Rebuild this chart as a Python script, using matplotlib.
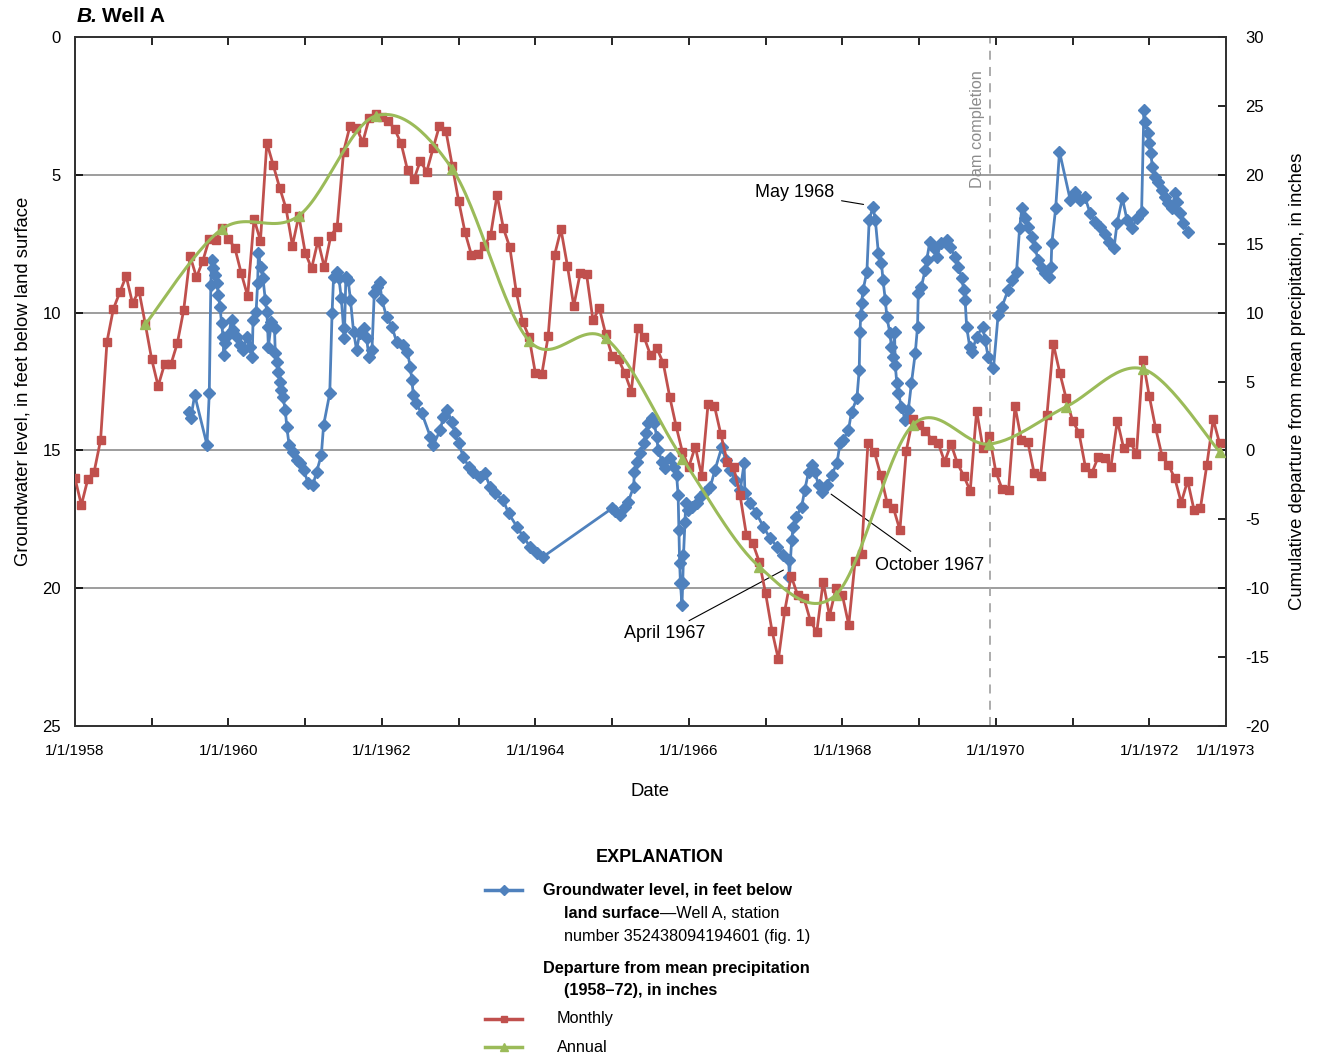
import matplotlib
matplotlib.use("Agg")
import matplotlib.pyplot as plt
from matplotlib.lines import Line2D
import numpy as np

plt.rcParams['font.family'] = ['Liberation Sans', 'DejaVu Sans']
plt.rcParams['axes.unicode_minus'] = False

# groundwater level, Well A (decimal year, feet below land surface)
gw_year = [1959.49, 1959.51, 1959.56, 1959.72, 1959.75, 1959.77, 1959.78, 1959.80, 1959.82, 1959.85,
           1959.87, 1959.89, 1959.91, 1959.93, 1959.94, 1959.95, 1960.00, 1960.04, 1960.06, 1960.11,
           1960.15, 1960.19, 1960.24, 1960.28, 1960.31, 1960.32, 1960.36, 1960.38, 1960.39, 1960.42,
           1960.45, 1960.48, 1960.50, 1960.51, 1960.52, 1960.56, 1960.60, 1960.61, 1960.63, 1960.65,
           1960.67, 1960.69, 1960.71, 1960.74, 1960.76, 1960.79, 1960.84, 1960.89, 1960.93, 1960.98,
           1961.04, 1961.10, 1961.15, 1961.21, 1961.24, 1961.32, 1961.35, 1961.37, 1961.41, 1961.44,
           1961.47, 1961.50, 1961.51, 1961.53, 1961.56, 1961.59, 1961.63, 1961.67, 1961.71, 1961.76,
           1961.80, 1961.83, 1961.87, 1961.90, 1961.93, 1961.97, 1962.00, 1962.06, 1962.13, 1962.19,
           1962.28, 1962.33, 1962.37, 1962.39, 1962.41, 1962.44, 1962.52, 1962.63, 1962.67, 1962.76,
           1962.80, 1962.85, 1962.91, 1962.95, 1963.00, 1963.06, 1963.13, 1963.19, 1963.28, 1963.34,
           1963.41, 1963.47, 1963.58, 1963.65, 1963.76, 1963.84, 1963.93, 1964.02, 1964.10,
           1965.00, 1965.04, 1965.10, 1965.17, 1965.21, 1965.28, 1965.29, 1965.32, 1965.36, 1965.41,
           1965.44, 1965.47, 1965.52, 1965.55, 1965.58, 1965.60, 1965.65, 1965.69, 1965.76, 1965.80,
           1965.84, 1965.86, 1965.87, 1965.88, 1965.89, 1965.91, 1965.92, 1965.93, 1965.95, 1965.96,
           1965.99, 1966.04, 1966.10, 1966.15, 1966.21, 1966.28, 1966.34, 1966.43, 1966.48, 1966.54,
           1966.60, 1966.67, 1966.72, 1966.73, 1966.80, 1966.88, 1966.97, 1967.06, 1967.15, 1967.23,
           1967.30, 1967.31, 1967.34, 1967.36, 1967.40, 1967.47, 1967.51, 1967.56, 1967.60, 1967.64,
           1967.69, 1967.73, 1967.80, 1967.86, 1967.93, 1967.97, 1968.01, 1968.08, 1968.12, 1968.19,
           1968.22, 1968.23, 1968.24, 1968.25, 1968.27, 1968.32, 1968.35, 1968.40, 1968.43, 1968.47,
           1968.51, 1968.53, 1968.56, 1968.58, 1968.62, 1968.64, 1968.66, 1968.68, 1968.69, 1968.71,
           1968.73, 1968.77, 1968.82, 1968.86, 1968.90, 1968.95, 1968.98, 1968.99, 1969.03, 1969.08,
           1969.10, 1969.14, 1969.19, 1969.23, 1969.29, 1969.36, 1969.40, 1969.47, 1969.51, 1969.56,
           1969.58, 1969.60, 1969.62, 1969.66, 1969.69, 1969.75, 1969.83, 1969.86, 1969.90, 1969.97,
           1970.03, 1970.08, 1970.16, 1970.21, 1970.27, 1970.31, 1970.34, 1970.38, 1970.42, 1970.47,
           1970.51, 1970.55, 1970.60, 1970.64, 1970.69, 1970.72, 1970.73, 1970.78, 1970.83, 1970.97,
           1971.03, 1971.10, 1971.16, 1971.23, 1971.29, 1971.36, 1971.42, 1971.48, 1971.54, 1971.58,
           1971.65, 1971.71, 1971.77, 1971.84, 1971.90, 1971.93, 1971.94, 1971.99, 1972.00, 1972.02,
           1972.04, 1972.07, 1972.12, 1972.16, 1972.20, 1972.25, 1972.29, 1972.34, 1972.36, 1972.40,
           1972.44, 1972.50]
gw_depth = [13.60, 13.81, 12.99, 14.80, 12.91, 9.00, 8.09, 8.39, 8.64, 8.94,
            9.36, 9.79, 10.39, 10.87, 11.54, 11.12, 10.81, 10.27, 10.63, 10.87,
            11.18, 11.36, 10.87, 11.24, 11.60, 10.27, 9.97, 8.94, 7.85, 8.33,
            8.76, 9.54, 9.97, 10.51, 11.24, 10.33, 10.57, 11.48, 11.78, 12.14,
            12.51, 12.81, 13.05, 13.53, 14.14, 14.80, 15.05, 15.35, 15.47, 15.71,
            16.20, 16.26, 15.77, 15.17, 14.08, 12.93, 10.03, 8.70, 8.52, 8.76,
            9.48, 10.57, 10.93, 8.70, 8.82, 9.54, 10.69, 11.36, 10.75, 10.57,
            10.93, 11.60, 11.36, 9.30, 9.06, 8.88, 9.54, 10.15, 10.51, 11.05,
            11.18, 11.42, 11.96, 12.45, 13.00, 13.29, 13.65, 14.50, 14.80, 14.26,
            13.78, 13.53, 13.96, 14.38, 14.74, 15.23, 15.59, 15.77, 15.95, 15.83,
            16.32, 16.56, 16.80, 17.28, 17.77, 18.13, 18.49, 18.73, 18.86,
            17.10, 17.20, 17.34, 17.04, 16.86, 16.32, 15.77, 15.41, 15.11, 14.74,
            14.38, 14.02, 13.84, 14.02, 14.50, 14.99, 15.41, 15.65, 15.29, 15.59,
            15.89, 16.62, 17.89, 19.10, 19.80, 20.61, 19.82, 18.80, 17.59, 16.92,
            17.17, 17.04, 16.92, 16.68, 16.50, 16.32, 15.71, 14.87, 15.35, 15.70,
            16.07, 16.44, 15.47, 16.56, 16.92, 17.28, 17.77, 18.19, 18.49, 18.80,
            18.98, 19.58, 18.25, 17.77, 17.40, 17.04, 16.44, 15.77, 15.53, 15.77,
            16.26, 16.50, 16.26, 15.89, 15.47, 14.74, 14.62, 14.26, 13.60, 13.11,
            12.08, 10.69, 10.09, 9.66, 9.18, 8.52, 6.64, 6.16, 6.64, 7.85,
            8.21, 8.82, 9.54, 10.15, 10.75, 11.24, 11.60, 10.70, 11.90, 12.57,
            12.93, 13.41, 13.90, 13.54, 12.57, 11.48, 10.51, 9.30, 9.06, 8.45,
            8.09, 7.43, 7.67, 7.97, 7.49, 7.37, 7.61, 7.97, 8.33, 8.76,
            9.18, 9.54, 10.51, 11.24, 11.42, 10.87, 10.51, 10.99, 11.60, 12.02,
            10.09, 9.79, 9.18, 8.82, 8.52, 6.94, 6.22, 6.58, 6.88, 7.25,
            7.61, 8.09, 8.39, 8.58, 8.70, 8.33, 7.49, 6.22, 4.16, 5.91,
            5.61, 5.91, 5.79, 6.40, 6.70, 6.88, 7.13, 7.43, 7.67, 6.76,
            5.85, 6.64, 6.94, 6.58, 6.34, 2.65, 3.07, 3.50, 3.86, 4.22,
            4.71, 5.07, 5.25, 5.55, 5.79, 6.03, 6.22, 5.67, 5.97, 6.40,
            6.76, 7.06]

# cumulative departure from mean precipitation, monthly, Jan 1958 - Dec 1972 (inches)
monthly_dep = [-2.03, -3.96, -2.10, -1.54, 0.75, 7.89, 10.26, 11.47, 12.65, 10.67, 11.60, 9.15,
               6.60, 4.67, 6.25, 6.25, 7.77, 10.19, 14.10, 12.56, 13.77, 15.34, 15.27, 16.16,
               15.34, 14.69, 12.85, 11.20, 16.79, 15.22, 22.33, 20.71, 19.07, 17.57, 14.86, 17.03,
               14.35, 13.21, 15.22, 13.28, 15.56, 16.24, 21.68, 23.54, 23.42, 22.36, 24.10, 24.41,
               24.22, 23.93, 23.30, 22.28, 20.35, 19.67, 21.00, 20.23, 21.92, 23.57, 23.20, 20.66,
               18.10, 15.82, 14.18, 14.23, 14.83, 15.63, 18.53, 16.11, 14.74, 11.52, 9.34, 8.25,
               5.59, 5.52, 8.30, 14.18, 16.04, 13.41, 10.48, 12.85, 12.78, 9.46, 10.31, 8.42,
               6.85, 6.60, 5.59, 4.26, 8.86, 8.21, 6.92, 7.41, 6.32, 3.90, 1.77, -0.14,
               -1.18, 0.27, -1.83, 3.37, 3.22, 1.17, -0.82, -1.23, -3.24, -6.14, -6.74, -8.07,
               -10.37, -13.08, -15.16, -11.63, -9.11, -10.49, -10.73, -12.36, -13.20, -9.53, -12.00, -10.01,
               -10.49, -12.67, -8.00, -7.52, 0.51, -0.09, -1.79, -3.79, -4.20, -5.78, -0.02, 2.25,
               1.84, 1.43, 0.76, 0.51, -0.82, 0.47, -0.94, -1.86, -2.95, 2.88, 0.15, 1.05,
               -1.54, -2.82, -2.87, 3.22, 0.76, 0.63, -1.66, -1.86, 2.57, 7.72, 5.64, 3.78,
               2.16, 1.29, -1.18, -1.66, -0.50, -0.57, -1.18, 2.16, 0.15, 0.63, -0.26, 6.56,
               3.95, 1.60, -0.41, -1.06, -2.03, -3.79, -2.20, -4.32, -4.20, -1.06, 2.25, 0.51]

# annual cumulative departure, plotted at December of each year
annual_years = list(range(1958, 1973))
annual_dep = [9.15, 16.07, 17.03, 24.27, 20.42, 7.96, 8.13, -0.6, -8.44, -10.47,
              1.84, 0.46, 3.17, 5.91, -0.09]

tick_years = [1958, 1960, 1962, 1964, 1966, 1968, 1970, 1972, 1973]
dam_year = 1969.92

BLUE = '#4F81BD'
RED = '#C0504D'
GREEN = '#9BBB59'


def smooth_curve(x, y, n=30):
    # bezier smoothing like a spreadsheet "smoothed line"
    x = np.asarray(x, float)
    y = np.asarray(y, float)
    px = np.concatenate([[x[0]], x, [x[-1]]])
    py = np.concatenate([[y[0]], y, [y[-1]]])
    xs, ys = [], []
    t = np.linspace(0, 1, n)
    for i in range(1, len(px) - 2):
        p0 = np.array([px[i], py[i]])
        p3 = np.array([px[i + 1], py[i + 1]])
        p1 = p0 + (np.array([px[i + 1], py[i + 1]]) - np.array([px[i - 1], py[i - 1]])) / 6
        p2 = p3 - (np.array([px[i + 2], py[i + 2]]) - np.array([px[i], py[i]])) / 6
        b = ((1 - t) ** 3)[:, None] * p0 + (3 * (1 - t) ** 2 * t)[:, None] * p1 \
            + (3 * (1 - t) * t ** 2)[:, None] * p2 + (t ** 3)[:, None] * p3
        xs.extend(b[:, 0])
        ys.extend(b[:, 1])
    return xs, ys


W, H = 1323, 1061
fig = plt.figure(figsize=(W / 100, H / 100), dpi=100)
ax = fig.add_axes([75 / W, 1 - 726 / H, 1151 / W, 689 / H])
ax2 = ax.twinx()

for v in [5, 10, 15, 20]:
    ax.axhline(v, color='#8c8c8c', lw=1.2, zorder=0)
ax.axvline(dam_year, color='#a6a6a6', lw=1.3, ls=(0, (5, 4)), zorder=1)

ax.plot(gw_year, gw_depth, color=BLUE, lw=2, marker='D', ms=6.3, zorder=3)

month_x = [1958 + i / 12 for i in range(len(monthly_dep))]
ax2.plot(month_x, monthly_dep, color=RED, lw=2, marker='s', ms=5.8, zorder=3)
ann_x = [y + 11 / 12 for y in annual_years]
sx, sy = smooth_curve(ann_x, annual_dep)
ax2.plot(sx, sy, color=GREEN, lw=2.2, zorder=4)
ax2.plot(ann_x, annual_dep, ls='none', marker='^', ms=6.5, color=GREEN, zorder=4)

ax.set_xlim(1958, 1973)
ax.set_ylim(25, 0)
ax2.set_ylim(-20, 30)
ax.set_xticks(tick_years)
ax.set_xticklabels([f"1/1/{y}" for y in tick_years], fontsize=11)
ax.set_xticks(range(1958, 1974), minor=True)
ax.set_yticks([0, 5, 10, 15, 20, 25])
ax.tick_params(axis='x', which='both', direction='in', top=True, length=6, width=1.2, pad=13)
ax.tick_params(axis='y', direction='in', length=6, width=1.2, labelsize=12, pad=10)
ax2.set_yticks(range(-20, 31, 5))
ax2.tick_params(axis='y', direction='in', length=6, width=1.2, labelsize=12, pad=14)
for a in (ax, ax2):
    for s in a.spines.values():
        s.set_linewidth(1.3)
        s.set_color('#333333')

ax.set_xlabel("Date", fontsize=13.3, labelpad=18)
ax.set_ylabel("Groundwater level, in feet below land surface", fontsize=13.3, labelpad=8)
ax2.set_ylabel("Cumulative departure from mean precipitation, in inches", fontsize=13.3,
               labelpad=14)

# annotations
line_kw = dict(arrowstyle='-', color='black', lw=0.8, shrinkA=3, shrinkB=3)
ax.annotate("May 1968", xy=(1968.33, 6.1), xytext=(1967.9, 5.66), fontsize=13,
            ha='right', va='center', arrowprops=line_kw)
ax.annotate("October 1967", xy=(1967.81, 16.5), xytext=(1968.43, 19.16), fontsize=13,
            ha='left', va='center', arrowprops=line_kw)
ax.annotate("April 1967", xy=(1967.28, 19.27), xytext=(1966.21, 21.66), fontsize=13,
            ha='right', va='center', arrowprops=line_kw)
ax.text(1969.76, 3.34, "Dam completion", rotation=90, color='#8c8c8c', fontsize=11.7,
        ha='center', va='center')

# title
fig.text(77 / W, 1 - 17 / H, "B.", fontsize=15, fontweight='bold', style='italic',
         va='center', ha='left')
fig.text(102 / W, 1 - 17 / H, "Well A", fontsize=15, fontweight='bold',
         va='center', ha='left')


# explanation
def fx(px):
    return px / W


def fy(py):
    return 1 - py / H


LS = 11.7
fig.text(fx(660), fy(857), "EXPLANATION", fontsize=13, fontweight='bold', ha='center', va='center')
fig.add_artist(Line2D([fx(485), fx(522)], [fy(890), fy(890)], color=BLUE, lw=2.5))
fig.add_artist(Line2D([fx(503.5)], [fy(890)], color=BLUE, marker='D', ms=5, ls='none'))
fig.text(fx(543), fy(890), "Groundwater level, in feet below", fontsize=LS, fontweight='bold',
         va='center')
t1 = fig.text(fx(564), fy(913), "land surface", fontsize=LS, fontweight='bold', va='center')
fig.canvas.draw()
bb = t1.get_window_extent(fig.canvas.get_renderer())
fig.text(bb.x1 / W, fy(913), "\u2014Well A, station", fontsize=LS, va='center')
fig.text(fx(564), fy(936), "number 352438094194601 (fig. 1)", fontsize=LS, va='center')
fig.text(fx(543), fy(968), "Departure from mean precipitation", fontsize=LS, fontweight='bold',
         va='center')
fig.text(fx(564), fy(991), "(1958\u201372), in inches", fontsize=LS, fontweight='bold', va='center')
fig.add_artist(Line2D([fx(485), fx(522)], [fy(1019), fy(1019)], color=RED, lw=2.5))
fig.add_artist(Line2D([fx(503.5)], [fy(1019)], color=RED, marker='s', ms=5, ls='none'))
fig.text(fx(557), fy(1019), "Monthly", fontsize=LS, va='center')
fig.add_artist(Line2D([fx(485), fx(522)], [fy(1047), fy(1047)], color=GREEN, lw=2.5))
fig.add_artist(Line2D([fx(503.5)], [fy(1047)], color=GREEN, marker='^', ms=6, ls='none'))
fig.text(fx(557), fy(1047), "Annual", fontsize=LS, va='center')

fig.savefig("out.png", dpi=100)
